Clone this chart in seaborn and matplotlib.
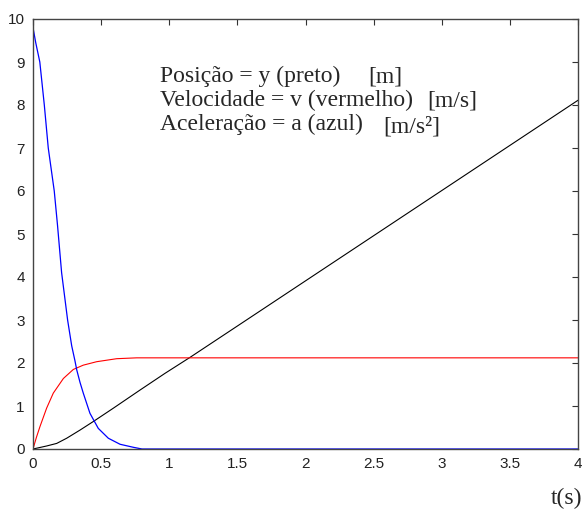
import numpy as np
import matplotlib
matplotlib.use("Agg")
import matplotlib.pyplot as plt
import seaborn as sns

# position (black)
t_pos = [0, 0.1, 0.174, 0.247, 0.345, 0.443, 0.59, 0.785, 0.969, 1.152,
         1.5, 2.0, 2.5, 3.0, 3.5, 4.0]
y_pos = [0, 0.07, 0.13, 0.25, 0.44, 0.64, 0.95, 1.37, 1.76, 2.13,
         2.86, 3.91, 4.96, 6.01, 7.06, 8.11]

# velocity (red)
t_vel = [0, 0.025, 0.051, 0.10, 0.149, 0.223, 0.296, 0.369, 0.467, 0.614, 0.761, 1.0, 4.0]
v_vel = [0, 0.27, 0.52, 0.95, 1.30, 1.64, 1.85, 1.95, 2.03, 2.10, 2.12, 2.12, 2.12]

# acceleration (blue)
t_acc = [0, 0.02, 0.05, 0.083, 0.112, 0.156, 0.18, 0.21, 0.254, 0.284, 0.308, 0.321,
         0.345, 0.369, 0.418, 0.479, 0.553, 0.639, 0.736, 0.8, 4.0]
a_acc = [9.8, 9.45, 9.0, 8.0, 7.0, 6.0, 5.2, 4.1, 3.0, 2.4, 2.05, 1.84,
         1.55, 1.3, 0.83, 0.48, 0.25, 0.11, 0.04, 0.0, 0.0]

x_ticks = [0, 0.5, 1, 1.5, 2, 2.5, 3, 3.5, 4]
x_labels = ["0", "0.5", "1", "1.5", "2", "2.5", "3", "3.5", "4"]
y_ticks = list(range(0, 11))

legend_lines = ["Posição = y (preto)", "Velocidade = v (vermelho)", "Aceleração = a (azul)"]
legend_units = ["[m]", "[m/s]", "[m/s²]"]

sns.set_style("white")
plt.rcParams["font.family"] = ["Liberation Sans", "DejaVu Sans"]

fig = plt.figure(figsize=(5.87, 5.13), dpi=100)
ax = fig.add_axes([33 / 587, 64 / 513, 545 / 587, 430 / 513])

sns.lineplot(x=t_pos, y=y_pos, color="black", lw=0.8, ax=ax)
sns.lineplot(x=t_vel, y=v_vel, color="#ff0000", lw=0.8, ax=ax)
sns.lineplot(x=t_acc, y=a_acc, color="#0000ff", lw=0.9, ax=ax)

ax.set_xlim(0, 4)
ax.set_ylim(0, 10)
ax.set_xticks(x_ticks)
ax.set_xticklabels(x_labels)
ax.set_yticks(y_ticks)
ax.tick_params(direction="in", length=4, width=0.8, color="#333333",
               top=True, right=True, labelsize=11, labelcolor="#222222", pad=6)
for s in ax.spines.values():
    s.set_color("#444444")
    s.set_linewidth(1.0)

serif = ["Liberation Serif", "DejaVu Serif"]
y_rows = [82, 106, 130]
x_units = [368, 427, 383]
for row, txt, unit, xu in zip(y_rows, legend_lines, legend_units, x_units):
    fig.text(160 / 587, 1 - row / 513, txt, family=serif, fontsize=17,
             va="baseline", ha="left")
    fig.text(xu / 587, 1 - (row + (3 if unit.endswith("²]") else 0)) / 513, unit,
             family=serif, fontsize=17, va="baseline", ha="left")

fig.text(551 / 587, 1 - 504 / 513, "t(s)", family=serif, fontsize=17,
         va="baseline", ha="left")

fig.savefig("out.png", dpi=100)
